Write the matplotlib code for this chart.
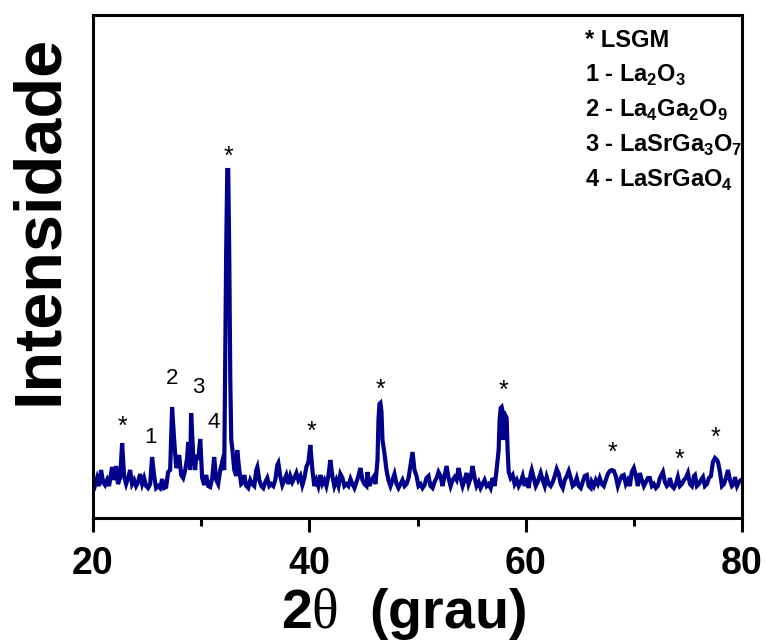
import matplotlib
matplotlib.use("Agg")
import matplotlib.pyplot as plt
from matplotlib import font_manager

# XRD pattern (2theta in degrees, intensity in a.u.)
two_theta = [
    20.00, 20.19, 20.37, 20.56, 20.74, 20.93, 21.11, 21.30, 21.48, 21.76,
    21.94, 22.13, 22.31, 22.50, 22.69, 22.87, 23.06, 23.24, 23.43, 23.61,
    23.80, 23.98, 24.17, 24.35, 24.54, 24.72, 24.91, 25.09, 25.28, 25.46,
    25.65, 25.83, 26.02, 26.20, 26.39, 26.57, 26.76, 26.94, 27.13, 27.31,
    27.50, 27.69, 27.87, 27.96, 28.15, 28.33, 28.52, 28.70, 28.80, 28.98,
    29.07, 29.26, 29.44, 29.54, 29.72, 29.91, 30.09, 30.28, 30.46, 30.65,
    30.83, 31.02, 31.20, 31.39, 31.57, 31.76, 31.94, 32.13, 32.31, 32.41,
    32.50, 32.59, 32.69, 32.78, 32.87, 33.06, 33.24, 33.33, 33.52, 33.70,
    33.89, 33.98, 34.17, 34.35, 34.54, 34.72, 34.91, 35.09, 35.19, 35.37,
    35.56, 35.74, 35.93, 36.11, 36.30, 36.48, 36.67, 36.85, 37.04, 37.13,
    37.31, 37.50, 37.69, 37.87, 38.06, 38.24, 38.43, 38.61, 38.80, 38.98,
    39.17, 39.35, 39.54, 39.72, 39.91, 40.09, 40.28, 40.46, 40.65, 40.83,
    41.02, 41.20, 41.39, 41.57, 41.76, 41.94, 42.13, 42.31, 42.50, 42.69,
    42.87, 43.06, 43.24, 43.43, 43.61, 43.80, 43.98, 44.17, 44.35, 44.54,
    44.72, 44.91, 45.09, 45.28, 45.37, 45.56, 45.74, 45.93, 46.11, 46.30,
    46.39, 46.48, 46.57, 46.67, 46.76, 46.94, 47.13, 47.31, 47.50, 47.69,
    47.87, 48.06, 48.24, 48.43, 48.61, 48.80, 48.98, 49.17, 49.35, 49.54,
    49.72, 49.91, 50.09, 50.28, 50.46, 50.65, 50.83, 51.02, 51.20, 51.39,
    51.57, 51.76, 51.94, 52.13, 52.31, 52.50, 52.69, 52.87, 53.06, 53.24,
    53.43, 53.61, 53.80, 53.98, 54.17, 54.35, 54.54, 54.72, 54.91, 55.09,
    55.28, 55.46, 55.65, 55.83, 56.02, 56.20, 56.39, 56.57, 56.76, 56.94,
    57.13, 57.31, 57.50, 57.59, 57.69, 57.78, 57.87, 57.96, 58.06, 58.15,
    58.24, 58.33, 58.43, 58.61, 58.80, 58.98, 59.17, 59.35, 59.54, 59.72,
    59.91, 60.09, 60.28, 60.46, 60.56, 60.74, 60.93, 61.11, 61.30, 61.39,
    61.57, 61.76, 61.94, 62.13, 62.31, 62.50, 62.69, 62.87, 63.06, 63.24,
    63.43, 63.61, 63.80, 63.98, 64.17, 64.35, 64.54, 64.72, 64.91, 65.09,
    65.28, 65.46, 65.65, 65.83, 66.02, 66.11, 66.30, 66.48, 66.67, 66.85,
    67.04, 67.22, 67.41, 67.59, 67.78, 67.96, 68.15, 68.33, 68.52, 68.70,
    68.89, 69.07, 69.26, 69.44, 69.63, 69.81, 70.00, 70.19, 70.37, 70.56,
    70.74, 70.93, 71.11, 71.30, 71.48, 71.67, 71.85, 72.04, 72.22, 72.41,
    72.59, 72.69, 72.87, 73.06, 73.24, 73.33, 73.52, 73.70, 73.89, 74.07,
    74.26, 74.44, 74.63, 74.81, 75.00, 75.19, 75.37, 75.56, 75.65, 75.83,
    76.02, 76.20, 76.39, 76.57, 76.76, 76.94, 77.13, 77.31, 77.50, 77.69,
    77.78, 77.96, 78.15, 78.33, 78.52, 78.70, 78.89, 79.07, 79.26, 79.35,
    79.54, 79.72, 79.91, 80.00,
]
intensity = [
    11, 6, 13, 5, 21, 9, 6, 11, 5, 24,
    11, 25, 7, 13, 48, 15, 7, 13, 21, 7,
    11, 5, 9, 17, 7, 13, 5, 3, 7, 34,
    15, 3, 5, 3, 12, 3, 4, 19, 21, 84,
    51, 23, 29, 36, 16, 13, 21, 33, 49, 21,
    78, 36, 21, 36, 31, 52, 13, 6, 16, 5,
    4, 13, 34, 11, 7, 21, 29, 21, 241, 321,
    321, 241, 111, 51, 43, 21, 15, 41, 21, 7,
    9, 16, 5, 3, 11, 7, 5, 21, 24, 11,
    5, 3, 9, 13, 5, 7, 5, 11, 26, 28,
    15, 6, 11, 16, 7, 15, 9, 13, 18, 11,
    15, 6, 13, 24, 29, 46, 21, 5, 11, 5,
    16, 7, 11, 5, 15, 31, 15, 5, 11, 5,
    17, 13, 5, 7, 5, 12, 7, 3, 9, 15,
    23, 11, 7, 5, 19, 5, 11, 14, 7, 31,
    71, 87, 88, 79, 51, 38, 21, 11, 5, 11,
    17, 7, 3, 7, 11, 5, 7, 13, 26, 39,
    21, 15, 5, 7, 3, 6, 13, 15, 5, 3,
    9, 13, 19, 15, 5, 15, 25, 13, 5, 11,
    14, 11, 23, 13, 5, 11, 18, 7, 13, 25,
    13, 5, 9, 3, 7, 11, 5, 7, 3, 13,
    5, 21, 41, 71, 83, 84, 79, 51, 71, 75,
    73, 41, 19, 13, 16, 7, 11, 5, 9, 15,
    5, 13, 3, 17, 21, 13, 5, 9, 15, 18,
    11, 5, 14, 7, 5, 9, 15, 22, 17, 7,
    3, 11, 15, 20, 13, 5, 7, 13, 5, 3,
    9, 15, 16, 5, 3, 9, 5, 11, 7, 13,
    7, 5, 11, 17, 20, 21, 20, 15, 5, 11,
    15, 16, 7, 11, 5, 19, 23, 15, 5, 18,
    11, 5, 9, 13, 13, 5, 7, 3, 5, 13,
    17, 19, 9, 5, 7, 13, 5, 3, 7, 14,
    5, 7, 11, 13, 18, 7, 5, 15, 16, 5,
    7, 11, 14, 5, 7, 13, 15, 29, 33, 31,
    29, 19, 5, 7, 13, 21, 11, 5, 7, 14,
    5, 9, 11, 11,
]

# LSGM reflections marked with "*" (position, label height)
star_pos = [22.69, 32.50, 40.19, 46.57, 57.96, 68.06, 74.26, 77.59]
star_y = [64, 334, 59, 101, 100, 38, 31, 53]

# secondary phase markers
phase_ids = ["1", "2", "3", "4"]
phase_pos = [25.28, 27.31, 29.72, 31.11]
phase_y = [54, 113, 104, 69]

legend_lines = [
    "* LSGM",
    r"1 - La$_\mathbf{2}$O$_\mathbf{3}$",
    r"2 - La$_\mathbf{4}$Ga$_\mathbf{2}$O$_\mathbf{9}$",
    r"3 - LaSrGa$_\mathbf{3}$O$_\mathbf{7}$",
    r"4 - LaSrGaO$_\mathbf{4}$",
]

names = {f.name for f in font_manager.fontManager.ttflist}
narrow = "Liberation Sans Narrow" if "Liberation Sans Narrow" in names else "Liberation Sans"

plt.rcParams["font.family"] = "Liberation Sans"
plt.rcParams["mathtext.fontset"] = "custom"
plt.rcParams["mathtext.rm"] = "Liberation Serif"
plt.rcParams["mathtext.bf"] = "Liberation Sans:bold"

fig = plt.figure(figsize=(7.67, 6.42), dpi=100)
ax = fig.add_axes([0.1213, 0.1931, 0.8461, 0.7835])

ax.plot(two_theta, intensity, color="#00008B", lw=3.0, solid_joinstyle="miter")

for x, y in zip(star_pos, star_y):
    ax.text(x, y, "*", fontsize=18, ha="center", va="center")
for lab, x, y in zip(phase_ids, phase_pos, phase_y):
    ax.text(x, y, lab, fontsize=16, ha="center", va="center")

for i, s in enumerate(legend_lines):
    ax.text(0.758, 0.936 - i * 0.0696, s, transform=ax.transAxes,
            fontsize=17, fontweight="bold", ha="left", va="baseline")

ax.set_xlim(20, 80)
ax.set_ylim(-27, 476)
ax.set_xticks([20, 40, 60, 80])
ax.set_xticks([30, 50, 70], minor=True)
ax.set_yticks([])
ax.tick_params(axis="x", which="major", direction="out", length=10, width=2.2, pad=10)
ax.tick_params(axis="x", which="minor", direction="out", length=6, width=2.2)
for lbl in ax.get_xticklabels():
    lbl.set_fontsize(27)
    lbl.set_fontweight("bold")
    lbl.set_family(narrow)
for sp in ax.spines.values():
    sp.set_linewidth(2.2)

fig.text(0.052, 0.657, "Intensidade", rotation=90, fontsize=48,
         fontweight="bold", ha="center", va="center")
fig.text(0.526, 0.022, r"2$\mathrm{\theta}$  (grau)", fontsize=40,
         fontweight="bold", ha="center", va="baseline")

fig.savefig("out.png", dpi=100)
